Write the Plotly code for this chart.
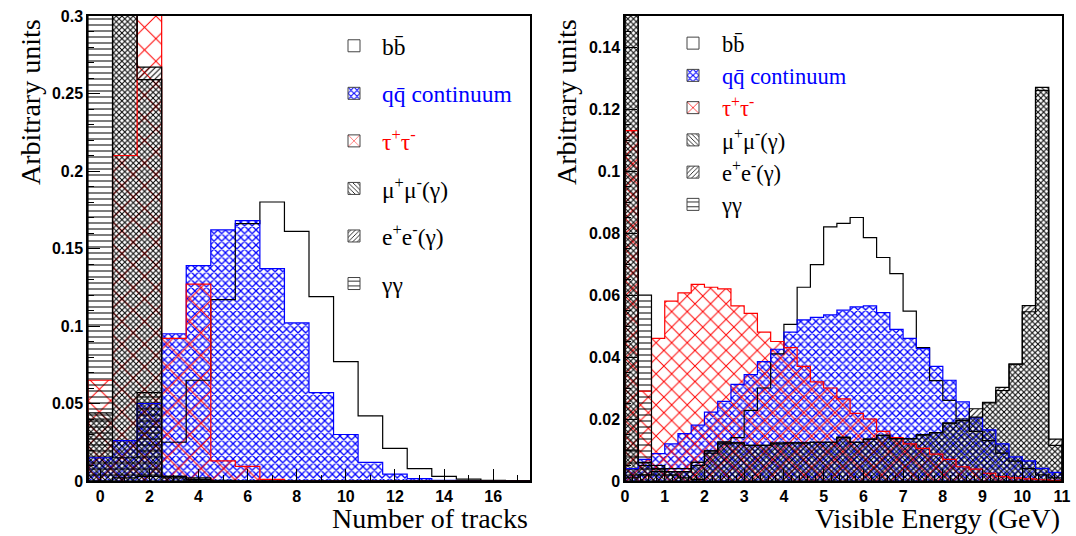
import numpy as np
import plotly.graph_objects as go

# ---------------- data: left panel (number of tracks) ----------------
tracks = list(range(18))
trk_bb    = [0.0, 0.002, 0.003, 0.025, 0.065, 0.117, 0.166, 0.180, 0.161, 0.119, 0.077, 0.042, 0.021, 0.008, 0.003, 0.0012, 0.0005, 0.0002]
trk_qq    = [0.015, 0.026, 0.050, 0.095, 0.139, 0.162, 0.168, 0.137, 0.102, 0.057, 0.030, 0.012, 0.0045, 0.0015, 0.0005, 0.0002, 0.0, 0.0]
trk_tau   = [0.065, 0.210, 0.360, 0.092, 0.127, 0.013, 0.0095, 0.001, 0, 0, 0, 0, 0, 0, 0, 0, 0, 0]
trk_mumu  = [0.044, 0.450, 0.259, 0.003, 0.002, 0.0005, 0, 0, 0, 0, 0, 0, 0, 0, 0, 0, 0, 0]
trk_ee    = [0.040, 0.420, 0.267, 0.003, 0.001, 0, 0, 0, 0, 0, 0, 0, 0, 0, 0, 0, 0, 0]
trk_gg    = [0.500, 0.015, 0.057, 0.002, 0.0005, 0, 0, 0, 0, 0, 0, 0, 0, 0, 0, 0, 0, 0]

# ---------------- data: right panel (visible energy, 33 bins 0-11 GeV) ----------------
e_min, e_max, n_ebins = 0.0, 11.0, 33
ev_bb   = [0.001, 0.002, 0.003, 0.004, 0.004, 0.006, 0.0097, 0.0126, 0.014, 0.0228, 0.030, 0.041, 0.0505, 0.0625, 0.0698, 0.082, 0.0831, 0.085, 0.0785, 0.0721, 0.0669, 0.0548, 0.043, 0.0324, 0.026, 0.020, 0.016, 0.013, 0.009, 0.0064, 0.004, 0.002, 0.001]
ev_qq   = [0.004, 0.007, 0.0088, 0.012, 0.0153, 0.018, 0.0222, 0.0257, 0.0312, 0.0343, 0.0385, 0.0425, 0.048, 0.052, 0.0528, 0.0536, 0.0551, 0.0562, 0.0565, 0.0543, 0.0489, 0.046, 0.0427, 0.037, 0.0325, 0.0255, 0.0204, 0.0165, 0.012, 0.0078, 0.0065, 0.0041, 0.0028]
ev_tau  = [0.113, 0.029, 0.046, 0.058, 0.0607, 0.0634, 0.0625, 0.062, 0.0565, 0.0541, 0.048, 0.045, 0.043, 0.037, 0.032, 0.030, 0.0265, 0.0218, 0.020, 0.016, 0.014, 0.012, 0.0105, 0.0087, 0.007, 0.0046, 0.0038, 0.0025, 0.0014, 0.001, 0.0007, 0.0004, 0.0002]
ev_mumu = [0.300, 0.006, 0.005, 0.003, 0.003, 0.005, 0.009, 0.012, 0.0123, 0.0115, 0.0115, 0.012, 0.0123, 0.0123, 0.0125, 0.0125, 0.014, 0.0125, 0.0135, 0.0147, 0.0137, 0.0137, 0.015, 0.0156, 0.0187, 0.0195, 0.0206, 0.0252, 0.0292, 0.0377, 0.0546, 0.127, 0.0115]
ev_ee   = [0.300, 0.005, 0.004, 0.003, 0.003, 0.006, 0.0097, 0.0123, 0.0123, 0.0115, 0.0115, 0.0123, 0.0123, 0.0123, 0.0125, 0.0125, 0.0142, 0.0125, 0.0135, 0.0147, 0.0137, 0.0137, 0.0148, 0.0156, 0.0187, 0.0196, 0.0233, 0.0254, 0.0302, 0.0377, 0.0566, 0.126, 0.0135]
ev_gg   = [0.010, 0.060, 0.004, 0.002, 0.001, 0.0005] + [0.0] * 27

names = ["bb\u0304",
         "<span style='color:#0000ff'>qq\u0304 continuum</span>",
         "<span style='color:#ff0000'>\u03c4<sup>+</sup>\u03c4<sup>-</sup></span>",
         "\u03bc<sup>+</sup>\u03bc<sup>-</sup>(\u03b3)",
         "e<sup>+</sup>e<sup>-</sup>(\u03b3)",
         "\u03b3\u03b3"]

# styles: (line colour, pattern shape, pattern size, solidity)
styles_left = [("black", "", 6, 0.2), ("#0000ff", "x", 5.4, 0.42), ("#ff0000", "x", 16, 0.12),
               ("black", "\\", 4.0, 0.25), ("black", "/", 4.0, 0.25), ("black", "-", 6, 0.17)]
styles_right = [("black", "", 6, 0.2), ("#0000ff", "x", 5.4, 0.42), ("#ff0000", "x", 11, 0.17),
                ("black", "\\", 4.0, 0.25), ("black", "/", 4.0, 0.25), ("black", "-", 6, 0.17)]

fig = go.Figure()

def step_xy(edges, vals):
    xs = [edges[0]] + list(edges[:-1]) + [edges[-1]]
    ys = [0.0] + list(vals) + [0.0]
    return xs, ys

def add_panel(centers, width, series, styles, xa, ya, legend_name):
    edges = np.concatenate([np.asarray(centers) - width / 2, [centers[-1] + width / 2]])
    for name, vals, (col, shape, size, sol) in zip(names, series, styles):
        patt = dict(shape=shape, size=size, solidity=sol, fgcolor=col, bgcolor="rgba(0,0,0,0)", fillmode="replace")
        fig.add_trace(go.Bar(x=centers, y=vals, width=width, xaxis=xa, yaxis=ya,
                             marker=dict(color="rgba(0,0,0,0)", line=dict(width=0), pattern=patt),
                             showlegend=False, hoverinfo="skip"))
        xs, ys = step_xy(edges, vals)
        fig.add_trace(go.Scatter(x=xs, y=ys, mode="lines", line=dict(color=col, width=1.2, shape="hv"),
                                 xaxis=xa, yaxis=ya, showlegend=False, hoverinfo="skip"))
        # legend key
        fig.add_trace(go.Bar(x=[None], y=[None], xaxis=xa, yaxis=ya, name=name, legend=legend_name,
                             legendgroup=legend_name + str(len(fig.data)),
                             marker=dict(color="white" if shape == "" else "rgba(0,0,0,0)",
                                         line=dict(width=1, color="#444"), pattern=patt)))

add_panel(np.array(tracks, dtype=float), 1.0,
          [trk_bb, trk_qq, trk_tau, trk_mumu, trk_ee, trk_gg], styles_left, "x", "y", "legend")
ew = (e_max - e_min) / n_ebins
ecent = e_min + ew * (np.arange(n_ebins) + 0.5)
add_panel(ecent, ew, [ev_bb, ev_qq, ev_tau, ev_mumu, ev_ee, ev_gg], styles_right, "x2", "y2", "legend2")

W, H = 1076, 536
def px(x):  # pixel -> paper x
    return x / W
def py(y):  # pixel -> paper y
    return 1 - y / H

ydom = [py(481), py(16)]
tickfont = dict(family="Liberation Sans", size=16, color="black", weight="bold")
axcommon = dict(showline=True, linecolor="black", linewidth=1.5, mirror=True, ticks="inside",
                tickcolor="black", ticklen=12, tickwidth=1, showgrid=False, zeroline=False,
                tickfont=tickfont, automargin=False)
serif = "Liberation Serif, Times New Roman, serif"

fig.update_layout(
    template="none",
    width=W, height=H, margin=dict(l=0, r=0, t=0, b=0, autoexpand=False),
    paper_bgcolor="white", plot_bgcolor="white", barmode="overlay", bargap=0,
    font=dict(family=serif, color="black"),
    xaxis=dict(domain=[px(88), px(530)], range=[-0.5, 17.5], dtick=2, tick0=0,
               minor=dict(dtick=1, ticklen=6, ticks="inside", tickcolor="black"), anchor="y", **axcommon),
    yaxis=dict(domain=ydom, range=[0, 0.30001], dtick=0.05, tick0=0,
               minor=dict(dtick=0.01, ticklen=6, ticks="inside", tickcolor="black"), anchor="x", **axcommon),
    xaxis2=dict(domain=[px(625), px(1062)], range=[0, 11], dtick=1, tick0=0,
                minor=dict(dtick=0.2, ticklen=6, ticks="inside", tickcolor="black"), anchor="y2", **axcommon),
    yaxis2=dict(domain=ydom, range=[0, 0.15], dtick=0.02, tick0=0,
                minor=dict(dtick=0.005, ticklen=6, ticks="inside", tickcolor="black"), anchor="x2", **axcommon),
    legend=dict(x=px(326), y=py(24), xanchor="left", yanchor="top", bgcolor="rgba(0,0,0,0)",
                font=dict(family=serif, size=23.5, color="black"), tracegroupgap=14,
                itemwidth=46, traceorder="grouped"),
    legend2=dict(x=px(664), y=py(22), xanchor="left", yanchor="top", bgcolor="rgba(0,0,0,0)",
                 font=dict(family=serif, size=22.5, color="black"), tracegroupgap=0,
                 itemwidth=48, traceorder="grouped"),
)

title_font = dict(family=serif, size=28, color="black")
fig.add_annotation(text="Arbitrary units", xref="paper", yref="paper", x=px(30), y=py(17),
                   xanchor="center", yanchor="top", textangle=-90, showarrow=False, font=title_font)
fig.add_annotation(text="Arbitrary units", xref="paper", yref="paper", x=px(566), y=py(17),
                   xanchor="center", yanchor="top", textangle=-90, showarrow=False, font=title_font)
fig.add_annotation(text="Number of tracks", xref="paper", yref="paper", x=px(530), y=py(518),
                   xanchor="right", yanchor="middle", showarrow=False, font=title_font)
fig.add_annotation(text="Visible Energy (GeV)", xref="paper", yref="paper", x=px(1062), y=py(518),
                   xanchor="right", yanchor="middle", showarrow=False, font=title_font)

fig.write_html("out.html", config={"displayModeBar": False},
               post_script="document.body.style.margin='0';document.body.style.overflow='hidden';")
